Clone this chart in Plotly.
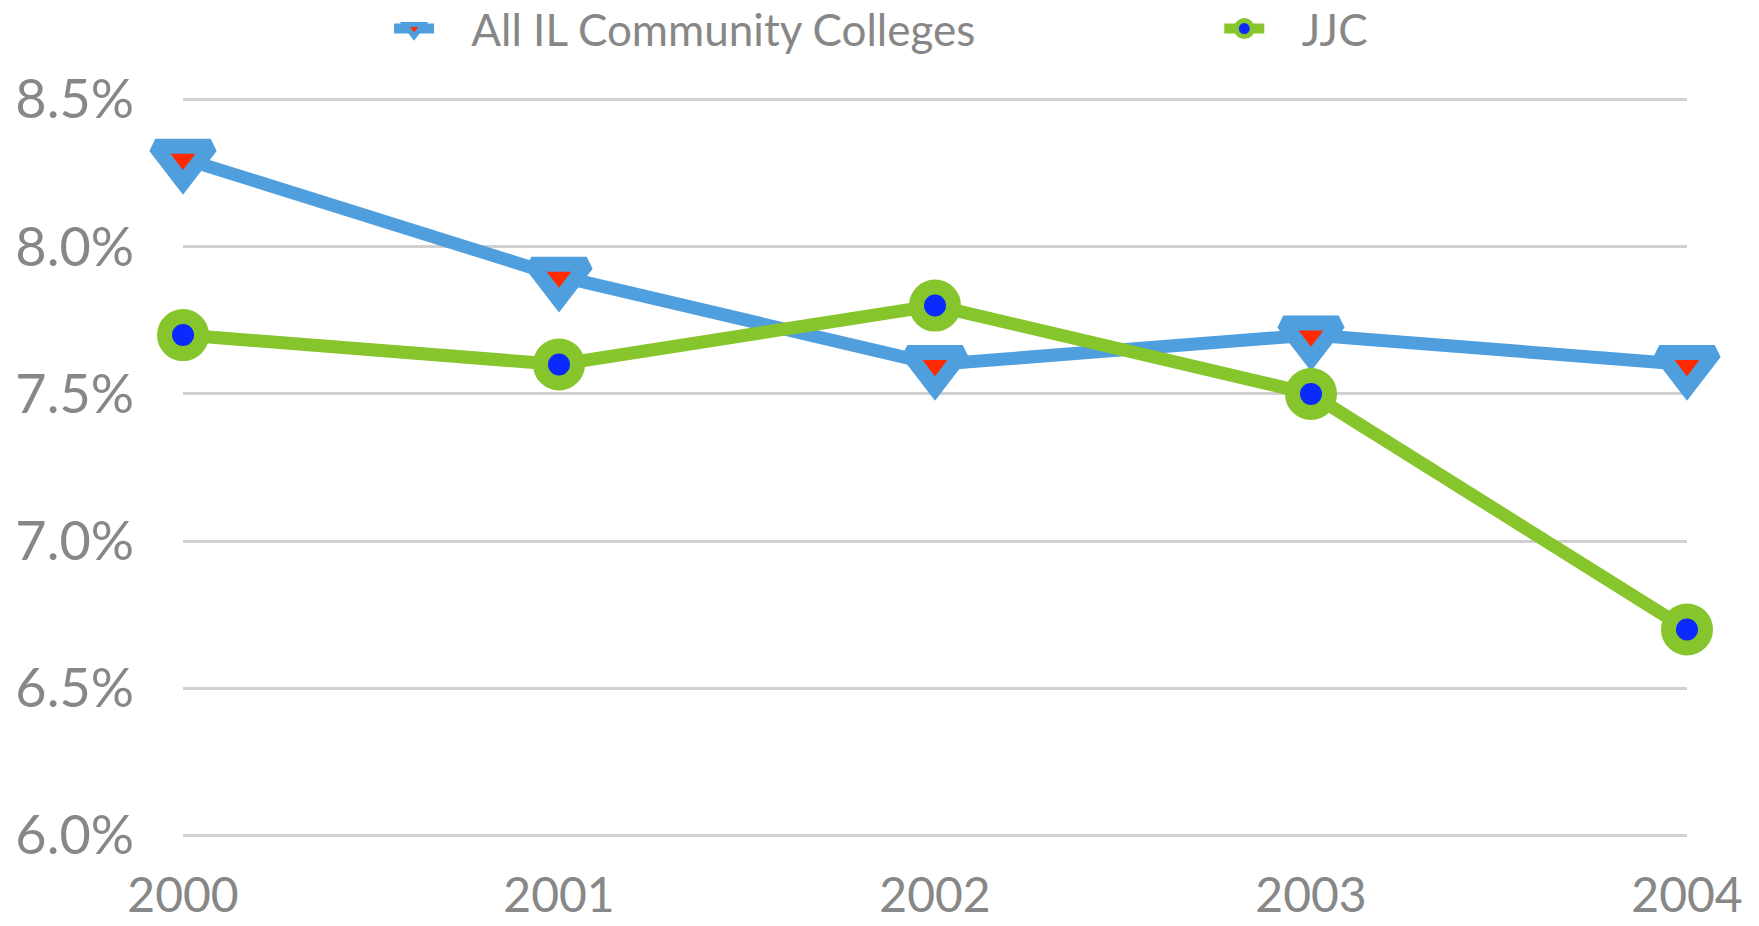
import plotly.graph_objects as go

years = [2000, 2001, 2002, 2003, 2004]
all_il = [8.3, 7.9, 7.6, 7.7, 7.6]
jjc = [7.7, 7.6, 7.8, 7.5, 6.7]
y_ticks = [6.0, 6.5, 7.0, 7.5, 8.0, 8.5]
y_labels = ["6.0%", "6.5%", "7.0%", "7.5%", "8.0%", "8.5%"]
names = ["All IL Community Colleges", "JJC"]

BLUE = "#4f9fdf"
RED = "#ff2a00"
GREEN = "#86c52c"
DBLUE = "#0a2aff"
GRAY = "#878787"
FONT = "Lato"
PAD = "\u00a0\u00a0\u00a0"

fig = go.Figure()
fig.add_trace(go.Scatter(
    x=years, y=all_il, name=PAD + names[0], mode="lines+markers",
    line=dict(color=BLUE, width=13),
    marker=dict(symbol="triangle-down", size=48, color=RED,
                line=dict(color=BLUE, width=15)),
    cliponaxis=False, legend="legend",
))
fig.add_trace(go.Scatter(
    x=years, y=jjc, name=PAD + names[1], mode="lines+markers",
    line=dict(color=GREEN, width=13),
    marker=dict(symbol="circle", size=37, color=DBLUE,
                line=dict(color=GREEN, width=15)),
    cliponaxis=False, legend="legend2",
))

leg_common = dict(orientation="h", yanchor="middle", y=1.0934, xanchor="left",
                  font=dict(size=44, color=GRAY, family=FONT),
                  itemwidth=40, bgcolor="rgba(0,0,0,0)",
                  borderwidth=0)

fig.update_layout(
    template="none",
    width=1759, height=926,
    margin=dict(l=183, r=72, t=98, b=89, autoexpand=False, pad=0),
    paper_bgcolor="white", plot_bgcolor="white",
    font=dict(family=FONT, color=GRAY),
    showlegend=True,
    legend=dict(x=0.137, **leg_common),
    legend2=dict(x=0.689, **leg_common),
    xaxis=dict(range=[2000, 2004], tickvals=years, ticktext=[str(y) for y in years],
               showgrid=False, zeroline=False, showline=False, ticks="",
               automargin=False,
               tickfont=dict(size=48, color=GRAY, family=FONT),
               ticklabelstandoff=26),
    yaxis=dict(range=[5.995, 8.505], tickvals=y_ticks, ticktext=y_labels,
               showgrid=True, gridcolor="#d0d0d0", gridwidth=3,
               zeroline=False, showline=False, ticks="", automargin=False,
               tickfont=dict(size=54, color=GRAY, family=FONT),
               ticklabelstandoff=48),
)

fig.write_html("out.html",
               config={"displayModeBar": False},
               post_script="document.body.style.margin='0px';document.body.style.overflow='hidden';")
